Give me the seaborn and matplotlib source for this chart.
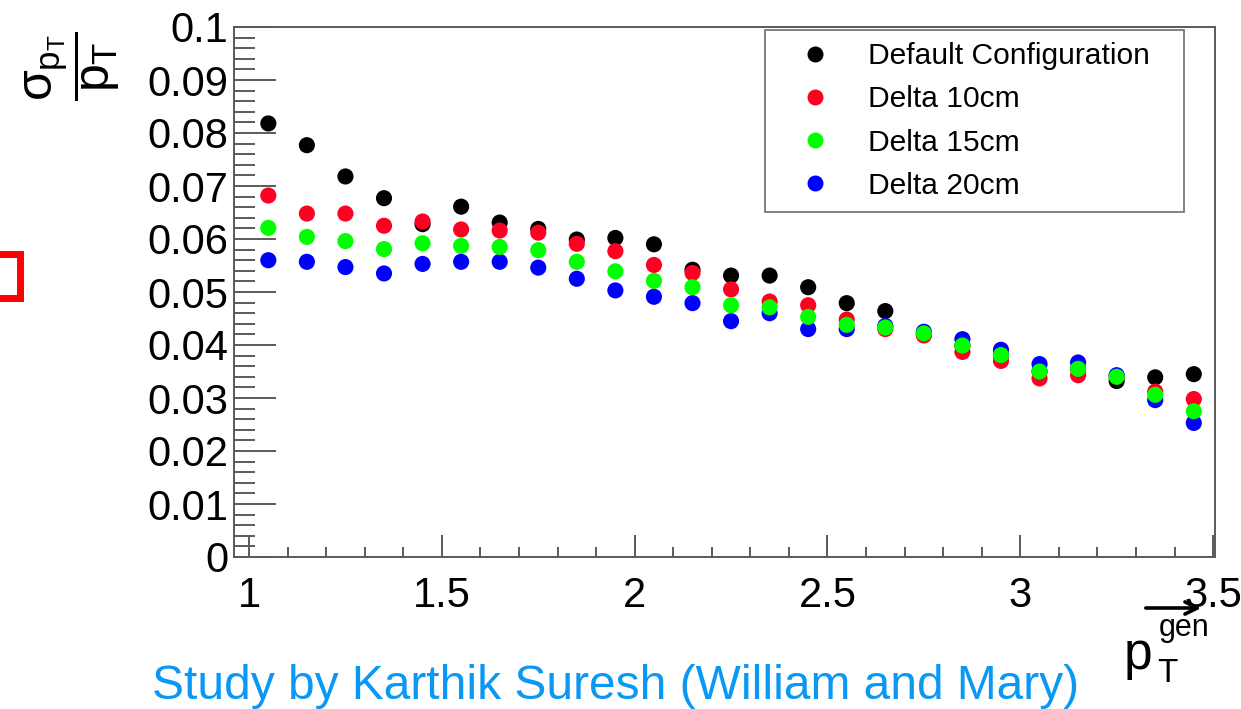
import numpy as np
import pandas as pd
import matplotlib
matplotlib.use("Agg")
import matplotlib.pyplot as plt
import seaborn as sns
from matplotlib.lines import Line2D
from matplotlib.patches import Rectangle, FancyArrowPatch
from matplotlib.ticker import MultipleLocator, FixedLocator, FixedFormatter

# Bin centres of generated pT (GeV/c)
pt_gen = [1.05, 1.15, 1.25, 1.35, 1.45, 1.55, 1.65, 1.75, 1.85, 1.95,
          2.05, 2.15, 2.25, 2.35, 2.45, 2.55, 2.65, 2.75, 2.85, 2.95,
          3.05, 3.15, 3.25, 3.35, 3.45]

# Relative pT resolution for each configuration
res_default = [0.0818, 0.0777, 0.0718, 0.0677, 0.0628, 0.0661, 0.0631, 0.0619, 0.0599, 0.0602,
               0.0590, 0.0542, 0.0531, 0.0531, 0.0509, 0.0479, 0.0464, 0.0421, 0.0399, 0.0381,
               0.0350, 0.0355, 0.0332, 0.0339, 0.0345]
res_delta10 = [0.0682, 0.0648, 0.0648, 0.0625, 0.0633, 0.0618, 0.0616, 0.0612, 0.0591, 0.0577,
               0.0551, 0.0536, 0.0505, 0.0482, 0.0475, 0.0448, 0.0430, 0.0418, 0.0387, 0.0370,
               0.0337, 0.0343, 0.0341, 0.0312, 0.0298]
res_delta15 = [0.0621, 0.0604, 0.0596, 0.0581, 0.0592, 0.0587, 0.0585, 0.0579, 0.0557, 0.0539,
               0.0521, 0.0509, 0.0475, 0.0471, 0.0453, 0.0438, 0.0433, 0.0422, 0.0399, 0.0381,
               0.0350, 0.0355, 0.0340, 0.0306, 0.0275]
res_delta20 = [0.0560, 0.0557, 0.0547, 0.0535, 0.0553, 0.0557, 0.0557, 0.0546, 0.0525, 0.0503,
               0.0491, 0.0479, 0.0445, 0.0460, 0.0430, 0.0430, 0.0436, 0.0425, 0.0411, 0.0391,
               0.0364, 0.0367, 0.0343, 0.0296, 0.0253]

config_names = ["Default Configuration", "Delta 10cm", "Delta 15cm", "Delta 20cm"]
config_colors = ["#000000", "#ff0022", "#00ff00", "#0000ff"]

y_ticks = [0.0, 0.01, 0.02, 0.03, 0.04, 0.05, 0.06, 0.07, 0.08, 0.09, 0.1]
y_ticklabels = ["0", "0.01", "0.02", "0.03", "0.04", "0.05", "0.06", "0.07", "0.08", "0.09", "0.1"]
x_ticks = [1.0, 1.5, 2.0, 2.5, 3.0, 3.5]
x_ticklabels = ["1", "1.5", "2", "2.5", "3", "3.5"]

# Long-format table; rows are stacked so that the 15cm points end up on top
series = dict(zip(config_names, [res_default, res_delta10, res_delta15, res_delta20]))
draw_order = ["Default Configuration", "Delta 10cm", "Delta 20cm", "Delta 15cm"]
df = pd.concat(
    [pd.DataFrame({"pt": pt_gen, "res": series[n], "config": n}) for n in draw_order],
    ignore_index=True,
)

sns.set_theme(style="white")
plt.rcParams["font.family"] = ["Liberation Sans", "DejaVu Sans"]
plt.rcParams["text.color"] = "black"
plt.rcParams["mathtext.fontset"] = "custom"
plt.rcParams["mathtext.rm"] = "Liberation Sans"
plt.rcParams["mathtext.it"] = "Liberation Sans"
plt.rcParams["mathtext.bf"] = "Liberation Sans:bold"

W, H = 1241, 709
fig = plt.figure(figsize=(W / 100, H / 100), dpi=100)
fig.patch.set_facecolor("white")
ax = fig.add_axes([234 / W, 1 - 557 / H, (1215 - 234) / W, (557 - 27) / H])

sns.scatterplot(
    data=df, x="pt", y="res", hue="config",
    hue_order=config_names, palette=dict(zip(config_names, config_colors)),
    s=135, linewidth=0, edgecolor="none", legend=False, ax=ax, zorder=3,
)

ax.set_xlim(0.961, 3.505)
ax.set_ylim(0.0, 0.1)
ax.set_xlabel("")
ax.set_ylabel("")

axis_grey = "#5a5a5a"
for side, sp in ax.spines.items():
    sp.set_visible(True)
    sp.set_color(axis_grey)
    sp.set_linewidth(1.4)

ax.yaxis.set_major_locator(FixedLocator(y_ticks))
ax.yaxis.set_major_formatter(FixedFormatter(y_ticklabels))
ax.yaxis.set_minor_locator(MultipleLocator(0.002))
ax.xaxis.set_major_locator(FixedLocator(x_ticks))
ax.xaxis.set_major_formatter(FixedFormatter(x_ticklabels))
ax.xaxis.set_minor_locator(MultipleLocator(0.1))

ax.tick_params(axis="y", which="major", direction="in", length=30, width=1.4,
               color=axis_grey, labelsize=30, pad=4, left=True, right=False)
ax.tick_params(axis="y", which="minor", direction="in", length=15, width=1.4,
               color=axis_grey, left=True, right=False)
ax.tick_params(axis="x", which="major", direction="in", length=16, width=1.4,
               color=axis_grey, labelsize=30, pad=14, bottom=True, top=False)
ax.tick_params(axis="x", which="minor", direction="in", length=7.5, width=1.4,
               color=axis_grey, bottom=True, top=False)
for lab in ax.get_xticklabels() + ax.get_yticklabels():
    lab.set_color("black")

# Legend box
handles = [Line2D([], [], marker="o", linestyle="", color=c, markersize=11.5,
                  markeredgewidth=0) for c in config_colors]
leg = ax.legend(handles, config_names, loc="upper left", mode="expand",
                bbox_to_anchor=(765 / W, 1 - 212 / H, (1184 - 765) / W, 182 / H),
                bbox_transform=fig.transFigure,
                borderaxespad=0, frameon=True, fancybox=False, fontsize=21.6,
                handlelength=2.5, handletextpad=0.53, borderpad=0.4,
                labelspacing=0.51, edgecolor="#555555", labelcolor="black")
leg.get_frame().set_linewidth(1.3)

# Vertical axis title (fraction, rotated)
fig.text(73 / W, 1 - 66 / H, r"$\dfrac{\sigma_{p_T}}{p_T}$", rotation=90,
         ha="center", va="center", fontsize=36, color="black")

# Horizontal axis title: p, subscript T, superscript gen, with arrow above
fig.text(1124 / W, 1 - 669 / H, "p", ha="left", va="baseline", fontsize=37)
fig.text(1157 / W, 1 - 682 / H, "T", ha="left", va="baseline", fontsize=24)
fig.text(1159 / W, 1 - 636 / H, "gen", ha="left", va="baseline", fontsize=22)
fig.add_artist(FancyArrowPatch((1143 / W, 1 - 608 / H), (1204 / W, 1 - 608 / H),
                               transform=fig.transFigure, arrowstyle="->",
                               mutation_scale=22, lw=2.6, color="black"))

fig.text(616 / W, 1 - 699 / H, "Study by Karthik Suresh (William and Mary)",
         ha="center", va="baseline", fontsize=34.5, color="#0a98f5")

# Red frame at the left edge
fig.add_artist(Rectangle((-30 / W, 1 - 297.5 / H), 49.5 / W, 44 / H,
                         transform=fig.transFigure, fill=False,
                         edgecolor="#ff0000", linewidth=5, clip_on=False))

fig.savefig("out.png", dpi=100)
